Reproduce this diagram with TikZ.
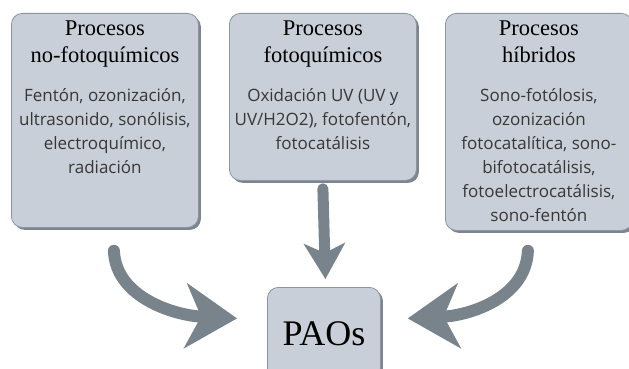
\documentclass[tikz,border=0pt]{standalone}
\usepackage{fontspec}
\setmainfont{Liberation Serif}
\newfontfamily\cuerpo{Open Sans}
\usetikzlibrary{positioning,shadows,arrows.meta}

\definecolor{cajagris}{RGB}{200,207,216}
\definecolor{bordegris}{RGB}{140,150,160}
\definecolor{sombragris}{RGB}{125,134,144}
\definecolor{flechagris}{RGB}{120,131,140}
\definecolor{textogris}{RGB}{55,55,55}

\tikzset{
  caja/.style={draw=bordegris, fill=cajagris, rounded corners=11pt, line width=0.8pt,
    minimum width=187pt, inner sep=0pt,
    drop shadow={shadow xshift=2.5pt, shadow yshift=-2.5pt, fill=sombragris, opacity=1}},
  titulo/.style={align=center, inner sep=0pt, font=\fontsize{22.5}{27.5}\selectfont},
  texto/.style={align=center, inner sep=0pt, text=textogris, font=\cuerpo\fontsize{17}{24}\selectfont},
  flecha/.style={draw=flechagris, line width=12pt, line cap=round,
    -{Stealth[length=52pt, width=66pt, inset=16pt, line width=0pt]}},
  flechita/.style={draw=flechagris, line width=11pt, line cap=round,
    -{Stealth[length=36pt, width=42pt, inset=10pt, line width=0pt]}},
}

\begin{document}
\begin{tikzpicture}[x=1pt, y=-1pt]
  \useasboundingbox (0,0) rectangle (629,369);

  % cajas de procesos
  \node[caja, minimum height=214pt, anchor=north west] (b1) at (11,13) {};
  \node[caja, minimum height=167pt, anchor=north west] (b2) at (229,13) {};
  \node[caja, minimum height=217pt, anchor=north west] (b3) at (445,13) {};
  \node[caja, minimum width=113pt, minimum height=92pt, anchor=north west,
    font=\fontsize{36}{40}\selectfont] (paos) at (267,287) {PAOs};

  % titulos
  \node[titulo, below=7.5pt of b1.north] (t1) {Procesos\\no-fotoquímicos};
  \node[titulo, below=7.5pt of b2.north] (t2) {Procesos\\fotoquímicos};
  \node[titulo, below=7.5pt of b3.north] (t3) {Procesos\\híbridos};

  % textos
  \node[texto, below=75pt of b1.north] (c1) {Fentón, ozonización,\\ultrasonido, sonólisis,\\electroquímico,\\radiación};
  \node[texto, below=75pt of b2.north] (c2) {Oxidación UV (UV y\\UV/H2O2), fotofentón,\\fotocatálisis};
  \node[texto, below=75pt of b3.north] (c3) {Sono-fotólosis,\\ozonización\\fotocatalítica, sono-\\bifotocatálisis,\\fotoelectrocatálisis,\\sono-fentón};

  % flechas
  \coordinate (s1) at ([shift={(9,23)}]b1.south);
  \coordinate (e1) at ([shift={(-30,-15)}]paos.west);
  \coordinate (s2) at ([yshift=-8pt]b2.south);
  \coordinate (e2) at ([xshift=1.5pt, yshift=8pt]paos.north);
  \coordinate (s3) at ([shift={(-11,20)}]b3.south);
  \coordinate (e3) at ([shift={(27,-15)}]paos.east);

  \draw[flecha] (s1) .. controls +(2,48) and +(-60,-3) .. (e1);
  \draw[flechita] (s2) -- (e2);
  \draw[flecha] (s3) .. controls +(-2,48) and +(60,-3) .. (e3);
\end{tikzpicture}
\end{document}
